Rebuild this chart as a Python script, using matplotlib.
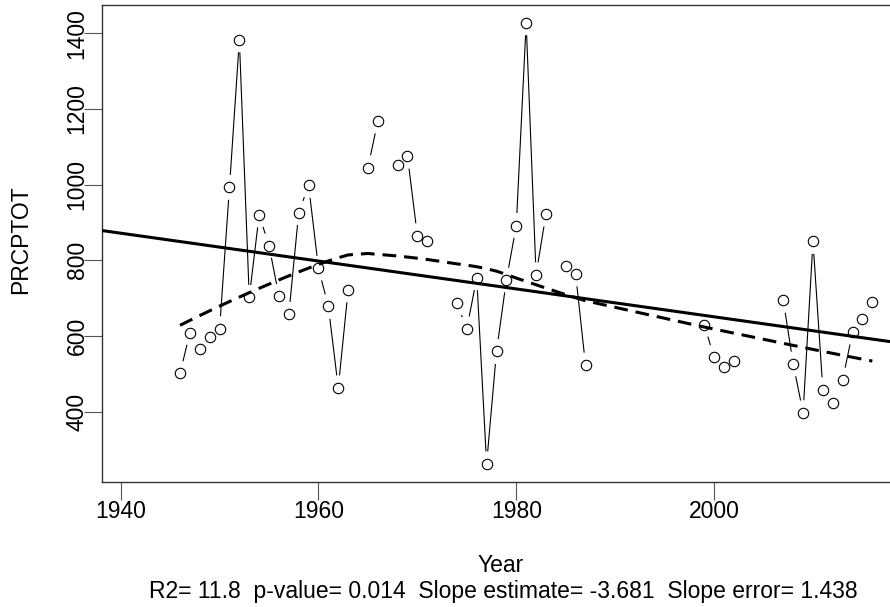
import numpy as np
import matplotlib
matplotlib.use("Agg")
import matplotlib.pyplot as plt
from matplotlib.collections import LineCollection

plt.rcParams['font.family'] = ['Liberation Sans', 'DejaVu Sans']

years = list(range(1946, 2017))
prcptot = [501, 609, 566, 597, 619, 993, 1383, 702, 920, 839, 705, 657, 926,
           998, 779, 678, 463, 722, None, 1045, 1168, None, 1053, 1075, 865, 852,
           None, None, 686, 619, 754, 262, 559, 748, 892, 1428, 762, 922, None,
           786, 764, 523, None, None, None, None, None, None, None, None, None,
           None, None, 630, 544, 518, 534, None, None, None, None, 694, 526, 397,
           850, 458, 423, 484, 610, 645, 689]
xticks = [1940, 1960, 1980, 2000]
yticks = [400, 600, 800, 1000, 1200, 1400]
xlabel = "Year"
ylabel = "PRCPTOT"
subtitle = "R2= 11.8  p-value= 0.014  Slope estimate= -3.681  Slope error= 1.438"

x = np.array(years, dtype=float)
y = np.array([np.nan if v is None else v for v in prcptot], dtype=float)
ok = ~np.isnan(y)
xv, yv = x[ok], y[ok]


def lowess(x, y, f=2/3, iters=3):
    n = len(x)
    ns = max(2, min(n, int(f * n + 1e-7)))
    rw = np.ones(n)
    ys = np.zeros(n)
    rng = x.max() - x.min()
    for it in range(iters + 1):
        for i in range(n):
            d = np.abs(x - x[i])
            h = np.sort(d)[ns - 1]
            w = np.zeros(n)
            r = d
            m1 = r <= 0.001 * h
            m2 = (r > 0.001 * h) & (r <= 0.999 * h)
            w[m1] = 1.0
            w[m2] = (1 - (r[m2] / h) ** 3) ** 3
            w = w * rw
            sw = w.sum()
            w = w / sw
            a = np.sum(w * x)
            b = x[i] - a
            c = np.sum(w * (x - a) ** 2)
            if np.sqrt(c) > 0.001 * rng:
                b = b / c
                w = w * (b * (x - a) + 1.0)
            ys[i] = np.sum(w * y)
        if it == iters:
            break
        res = y - ys
        cmad = 6 * np.median(np.abs(res))
        ar = np.abs(res)
        rw = np.where(ar <= 0.001 * cmad, 1.0,
                      np.where(ar <= 0.999 * cmad, (1 - (ar / cmad) ** 2) ** 2, 0.0))
    return ys


W, H = 890, 607
fig = plt.figure(figsize=(W / 100, H / 100), dpi=100)
L, R, T, B = 101.7, 901, 5, 481.7
ax = fig.add_axes([L / W, 1 - B / H, (R - L) / W, (B - T) / H])
ax.set_xlim(1938.08, 2018.9)
ax.set_ylim(214.8, 1474.9)

# connecting segments with gaps (R type="b")
gap = 12.5
segs = []
for i in range(len(x) - 1):
    if ok[i] and ok[i + 1]:
        p0 = ax.transData.transform((x[i], y[i]))
        p1 = ax.transData.transform((x[i + 1], y[i + 1]))
        v = p1 - p0
        dl = np.hypot(*v)
        if dl > 2 * gap + 1:
            u = v / dl
            q0 = ax.transData.inverted().transform(p0 + u * gap)
            q1 = ax.transData.inverted().transform(p1 - u * gap)
            segs.append([q0, q1])
ax.add_collection(LineCollection(segs, colors='black', linewidths=0.8, zorder=2))

ax.plot(xv, yv, linestyle='none', marker='o', markersize=7.5, markerfacecolor='white',
        markeredgecolor='black', markeredgewidth=0.8, zorder=3)

# linear regression
b1, b0 = np.polyfit(xv, yv, 1)
xl = np.array(ax.get_xlim())
ax.plot(xl, b0 + b1 * xl, color='black', lw=2.2, zorder=4, solid_capstyle='butt')

# lowess
ly = lowess(xv, yv)
ax.plot(xv, ly, color='black', lw=2.2, linestyle=(0, (4.5, 2.6)), zorder=4)

for s in ['top', 'bottom', 'left']:
    ax.spines[s].set_color('#333333')
    ax.spines[s].set_linewidth(1.0)
ax.spines['right'].set_visible(False)

ax.set_xticks(xticks)
ax.set_xticklabels([str(t) for t in xticks])
ax.set_yticks(yticks)
ax.set_yticklabels([str(t) for t in yticks], rotation=90, va='center')
ax.tick_params(axis='both', length=13, width=0.8, color='#555555', labelsize=16.5)
ax.tick_params(axis='x', pad=0.5)
ax.tick_params(axis='y', pad=-3.5)

fig.text(20.7 / W, 1 - 240 / H, ylabel, rotation=90, ha='center', va='center', fontsize=16.5)
fig.text(501 / W, 1 - 565 / H, xlabel, ha='center', va='center', fontsize=16.5)
fig.text(503 / W, 1 - 591.7 / H, subtitle, ha='center', va='center', fontsize=16.5)

fig.savefig("out.png", dpi=100)
